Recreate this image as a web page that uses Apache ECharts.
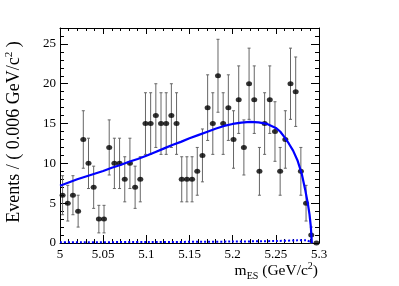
<!DOCTYPE html>
<html><head><meta charset="utf-8">
<script src="https://cdn.jsdelivr.net/npm/echarts@6/dist/echarts.min.js"></script>
<style>html,body{margin:0;padding:0;background:#fff}#c{width:399px;height:286px}</style>
</head><body><div id="c"></div>
<script>
const binCenters = [5.003,5.009,5.015,5.021,5.027,5.033,5.039,5.045,5.051,5.057,
  5.063,5.069,5.075,5.081,5.087,5.093,5.099,5.105,5.111,5.117,
  5.123,5.129,5.135,5.141,5.147,5.153,5.159,5.165,5.171,5.177,
  5.183,5.189,5.195,5.201,5.207,5.213,5.219,5.225,5.231,5.237,
  5.243,5.249,5.255,5.261,5.267,5.273,5.279,5.285,5.291,5.297];
const counts = [6,5,6,4,13,10,7,3,3,12,
  10,10,8,10,7,8,15,15,16,15,
  15,16,15,8,8,8,9,11,17,15,
  21,15,17,13,18,12,20,18,9,15,
  18,14,9,13,20,19,9,5,1,0];
const errors = [2.45,2.24,2.45,2.0,3.61,3.16,2.65,1.73,1.73,3.46,
  3.16,3.16,2.83,3.16,2.65,2.83,3.87,3.87,4.0,3.87,
  3.87,4.0,3.87,2.83,2.83,2.83,3.0,3.32,4.12,3.87,
  4.58,3.87,4.12,3.61,4.24,3.46,4.47,4.24,3.0,3.87,
  4.24,3.74,3.0,3.61,4.47,4.36,3.0,2.24,1.0,0];
const fitX = [5.00,5.01,5.02,5.03,5.04,5.05,5.06,5.07,5.08,5.09,
  5.10,5.11,5.12,5.13,5.14,5.15,5.16,5.17,5.18,5.19,
  5.20,5.21,5.22,5.23,5.24,5.25,5.255,5.26,5.265,5.27,
  5.275,5.28,5.284,5.287,5.289,5.2905,5.2917];
const fitY = [7.2,7.6,8.0,8.35,8.7,9.05,9.45,9.8,10.2,10.55,
  10.95,11.4,11.85,12.3,12.7,13.15,13.55,13.95,14.35,14.7,
  14.95,15.12,15.2,15.15,14.95,14.45,14.0,13.3,12.5,11.6,
  10.4,8.7,6.7,5.0,3.6,2.1,0];
const bkgX = [5.000,5.100,5.200,5.250,5.275,5.285,5.2917];
const bkgY = [0.10,0.12,0.18,0.25,0.33,0.35,0];
const xTicks = [5,5.05,5.1,5.15,5.2,5.25,5.3];
const yTicks = [0,5,10,15,20,25];

const FONT = 'Liberation Serif';
const chart = echarts.init(document.getElementById('c'), null, {renderer:'canvas'});
const pts = binCenters.map((x,i)=>[x,counts[i],errors[i]]);
const yMinor = []; for (let v=0; v<=27; v++) if (v%5!==0) yMinor.push(v);

const xBase = {type:'value', min:5, max:5.3, interval:0.05, splitLine:{show:false},
  axisLine:{show:true, onZero:false, lineStyle:{color:'#000', width:1}}};
const yBase = {type:'value', min:0, max:27, splitLine:{show:false},
  axisLine:{show:true, onZero:false, lineStyle:{color:'#000', width:1}}};

chart.setOption({
  animation:false,
  grid:{left:60, right:80, top:28, bottom:43, containLabel:false},
  xAxis:[
    Object.assign({}, xBase, {position:'bottom',
      axisTick:{show:true, inside:true, length:8, lineStyle:{color:'#000'}},
      minorTick:{show:true, splitNumber:5, length:4, lineStyle:{color:'#000'}},
      axisLabel:{show:true, margin:5, color:'#000', fontFamily:FONT, fontSize:13,
        customValues:xTicks, formatter:v=>String(+v.toFixed(2))}}),
    Object.assign({}, xBase, {position:'top',
      axisTick:{show:true, inside:true, length:6, lineStyle:{color:'#000'}},
      minorTick:{show:true, splitNumber:5, length:3, lineStyle:{color:'#000'}},
      axisLabel:{show:false}})
  ],
  yAxis:[
    Object.assign({}, yBase, {position:'left',
      axisTick:{show:true, inside:true, length:8, customValues:yTicks, lineStyle:{color:'#000'}},
      axisLabel:{show:true, margin:4, color:'#000', fontFamily:FONT, fontSize:13, customValues:yTicks}}),
    Object.assign({}, yBase, {position:'left', axisLine:{show:false},
      axisTick:{show:true, inside:true, length:4, customValues:yMinor, lineStyle:{color:'#000'}},
      axisLabel:{show:false}}),
    Object.assign({}, yBase, {position:'right',
      axisTick:{show:true, inside:true, length:8, customValues:yTicks, lineStyle:{color:'#000'}},
      axisLabel:{show:false}}),
    Object.assign({}, yBase, {position:'right', axisLine:{show:false},
      axisTick:{show:true, inside:true, length:4, customValues:yMinor, lineStyle:{color:'#000'}},
      axisLabel:{show:false}})
  ],
  series:[
    {type:'custom', xAxisIndex:0, yAxisIndex:0, data:pts, z:2,
     renderItem:(params, api)=>{
       const x=api.value(0), y=api.value(1), e=api.value(2);
       if (!(e>0)) return null;
       const top=api.coord([x,y+e]), bot=api.coord([x,y-e]);
       const st={stroke:'#666', lineWidth:1};
       return {type:'group', children:[
         {type:'line', shape:{x1:top[0],y1:top[1],x2:bot[0],y2:bot[1]}, style:st},
         {type:'line', shape:{x1:top[0]-1.5,y1:top[1],x2:top[0]+1.5,y2:top[1]}, style:st},
         {type:'line', shape:{x1:bot[0]-1.5,y1:bot[1],x2:bot[0]+1.5,y2:bot[1]}, style:st}
       ]};
     }},
    {type:'scatter', data:pts.map(p=>[p[0],p[1]]), symbol:'circle', symbolSize:[6,5],
     itemStyle:{color:'#000'}, z:3},
    {type:'line', data:fitX.map((x,i)=>[x,fitY[i]]), showSymbol:false, smooth:false,
     lineStyle:{color:'#0000ff', width:2.2}, z:4},
    {type:'line', data:bkgX.map((x,i)=>[x,bkgY[i]]), showSymbol:false, smooth:0.3,
     lineStyle:{color:'#0000ff', width:2, type:[2,2]}, z:4}
  ],
  graphic:[
    {type:'text', x:14, y:132, rotation:Math.PI/2,
     style:{text:'Events / ( 0.006 GeV/c{sup|2} )', fill:'#000', font:'18px "Liberation Serif"',
       align:'center', verticalAlign:'middle',
       rich:{sup:{fontSize:11, fontFamily:FONT, verticalAlign:'top', lineHeight:20, fill:'#000'}}}},
    {type:'text', x:318, y:271,
     style:{text:'m{sub|ES} (GeV/c{sup|2})', fill:'#000', font:'15.5px "Liberation Serif"',
       align:'right', verticalAlign:'middle',
       rich:{sub:{fontSize:10, fontFamily:FONT, verticalAlign:'bottom', lineHeight:20, fill:'#000'},
             sup:{fontSize:10, fontFamily:FONT, verticalAlign:'top', lineHeight:20, fill:'#000'}}}}
  ]
});
</script></body></html>
